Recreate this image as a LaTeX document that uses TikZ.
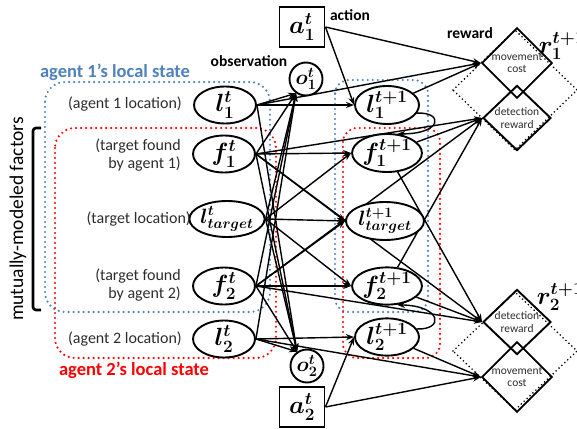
\documentclass[tikz,border=0pt]{standalone}
\usepackage{fontspec}
\usepackage{bm}
\setmainfont{Carlito}
\usetikzlibrary{shapes.geometric,arrows.meta,backgrounds}
\definecolor{aoneblue}{RGB}{79,129,189}
\definecolor{atwored}{RGB}{255,0,0}
\definecolor{lbl}{RGB}{45,45,45}
\begin{document}
\begin{tikzpicture}[x=1pt,y=-1pt,
  var/.style={ellipse,draw,line width=1.9pt,fill=white,inner sep=0pt,minimum width=62pt,minimum height=36pt,font=\fontsize{23}{26}\selectfont},
  obs/.style={circle,draw,line width=1.9pt,fill=white,inner sep=0pt,minimum size=33pt,font=\fontsize{21}{24}\selectfont},
  act/.style={rectangle,draw,line width=1.9pt,fill=white,inner sep=0pt,minimum width=45pt,minimum height=40pt,font=\fontsize{23}{26}\selectfont},
  rew/.style={diamond,draw,line width=1.9pt,inner sep=0pt,minimum width=68pt,minimum height=64pt,align=center,font=\fontsize{11.5}{12.5}\selectfont,text=lbl},
  edge/.style={line width=1.4pt,-{Stealth[length=8pt,width=6pt]}},
  bluedot/.style={draw=aoneblue,line width=2.4pt,line cap=round,dash pattern=on 0pt off 5pt,rounded corners=20pt},
  reddot/.style={draw=atwored,line width=2.4pt,line cap=round,dash pattern=on 0pt off 5pt,rounded corners=20pt},
  blackdot/.style={draw=black,line width=1.8pt,line cap=round,dash pattern=on 0pt off 4pt},
  desc/.style={font=\fontsize{16}{18}\selectfont,text=lbl,align=right,inner sep=0pt},
  head/.style={font=\fontsize{15.5}{18}\selectfont\bfseries,inner sep=0pt},
  state/.style={font=\fontsize{18.5}{20}\selectfont\bfseries,inner sep=0pt},
  rlab/.style={font=\fontsize{23}{26}\selectfont,inner sep=0pt}
]
\useasboundingbox (0,0) rectangle (577,428);

% nodes
\node[act] (a1) at (302,27) {$\bm{a^t_1}$};
\node[act] (a2) at (302,407) {$\bm{a^t_2}$};
\node[obs] (o1) at (306,79) {$\bm{o^t_1}$};
\node[obs] (o2) at (307,366) {$\bm{o^t_2}$};

\node[var] (l1t) at (225,105) {$\bm{l^t_1}$};
\node[var] (f1t) at (224,154) {$\bm{f^t_1}$};
\node[var,minimum width=68pt,font=\fontsize{22}{25}\selectfont] (ltt) at (227,219) {$\bm{l^t_{target}}$};
\node[var] (f2t) at (224,286) {$\bm{f^t_2}$};
\node[var,minimum height=33pt] (l2t) at (224,339) {$\bm{l^t_2}$};

\node[var,minimum width=64pt,minimum height=38pt] (l1n) at (387,105) {$\bm{l^{t+1}_1}$};
\node[var,minimum width=64pt,minimum height=38pt] (f1n) at (387,153) {$\bm{f^{t+1}_1}$};
\node[var,minimum width=78pt,minimum height=38pt,font=\fontsize{22}{25}\selectfont] (ltn) at (385,221) {$\bm{l^{t+1}_{target}}$};
\node[var,minimum width=64pt,minimum height=35pt] (f2n) at (387,286) {$\bm{f^{t+1}_2}$};
\node[var,minimum width=64pt,minimum height=35pt] (l2n) at (387,337) {$\bm{l^{t+1}_2}$};

\node[rew] (mc1) at (517,63) {movement\\cost};
\node[rew] (dr1) at (517,118) {detection\\reward};
\node[rew] (dr2) at (517,322) {detection\\reward};
\node[rew] (mc2) at (517,377) {movement\\cost};

\begin{scope}[on background layer]
% local state boxes
\draw[bluedot] (45,82) rectangle (270,312);
\draw[reddot] (55,128) rectangle (276,358);
\draw[bluedot,rounded corners=14pt] (335,80) rectangle (428,312);
\draw[reddot,rounded corners=14pt] (343,128) rectangle (440,358);
% dotted reward diamonds
\draw[blackdot] (453,90) -- (515,30) -- (577,90) -- (515,150) -- cycle;
\draw[blackdot] (453,351) -- (515,292) -- (577,351) -- (515,410) -- cycle;

% edges: t -> t+1
\draw[edge] (l1t.east) -- (l1n.west);
\draw[edge] (f1t.east) -- (f1n.west);
\draw[edge] (ltt.east) -- (ltn.west);
\draw[edge] (f2t.east) -- (f2n.west);
\draw[edge] (l2t.east) -- (l2n.west);
\draw[edge] (f1t.east) -- (ltn.west);
\draw[edge] (f2t.east) -- (ltn.west);
\draw[edge] (ltt.east) -- (f1n.west);
\draw[edge] (ltt.east) -- (f2n.west);
\draw[edge] (a1.east) -- (l1n.west);
\draw[edge] (a2.east) -- (l2n.west);

% observations
\foreach \s in {l1t,f1t,ltt,f2t,l2t}{
  \draw[edge] (\s.east) -- (o1.235);
  \draw[edge] (\s.east) -- (o2.125);
}

% rewards
\draw[edge] (a1.east) -- (mc1.west);
\draw[edge] (l1t.east) -- (mc1.west);
\draw[edge] (l1n) -- (mc1.west);
\draw[edge] (a2.east) -- (mc2.west);
\draw[edge] (l2t.east) -- (mc2.west);
\draw[edge] (l2n) -- (mc2.west);
\draw[edge] (f1t.east) -- (dr1.west);
\draw[edge] (f2t.east) -- (dr1.west);
\draw[edge] (f1n) -- (dr1.west);
\draw[edge] (f2n) -- (dr1.west);
\draw[edge] (f1t.east) -- (dr2.west);
\draw[edge] (f2t.east) -- (dr2.west);
\draw[edge] (f1n) -- (dr2.west);
\draw[edge] (f2n) -- (dr2.west);
\end{scope}

% loops
\draw[edge] (l1n.-15) .. controls (444,112) and (442,134) .. (f1n.62);
\draw[edge] (l2n.15) .. controls (444,330) and (442,306) .. (f2n.-62);

% labels
\node[head] (obslab) at (249,61) {observation};
\node[head] (actlab) at (350,15) {action};
\node[head] (rewlab) at (470,33) {reward};
\node[state,text=aoneblue] (s1lab) at (115,72) {agent 1’s local state};
\node[state,text=atwored] (s2lab) at (134,370) {agent 2’s local state};
\node[desc,anchor=east] (d1) at (182,104) {(agent 1 location)};
\node[desc,anchor=east] (d2) at (181,155) {(target found\\by agent 1)};
\node[desc,anchor=east] (d3) at (191,219) {(target location)};
\node[desc,anchor=east] (d4) at (181,285) {(target found\\by agent 2)};
\node[desc,anchor=east] (d5) at (182,339) {(agent 2 location)};
\node[rlab] (r1lab) at (562,46) {$\bm{r^{t+1}_1}$};
\node[rlab] (r2lab) at (560,297) {$\bm{r^{t+1}_2}$};
\node[font=\fontsize{19.5}{21}\selectfont,rotate=90,inner sep=0pt] (mmf) at (18,219) {mutually-modeled factors};
\draw[line width=2.6pt,rounded corners=3pt] (41,128) -- (33,128) -- (33,310) -- (41,310);
\end{tikzpicture}
\end{document}
